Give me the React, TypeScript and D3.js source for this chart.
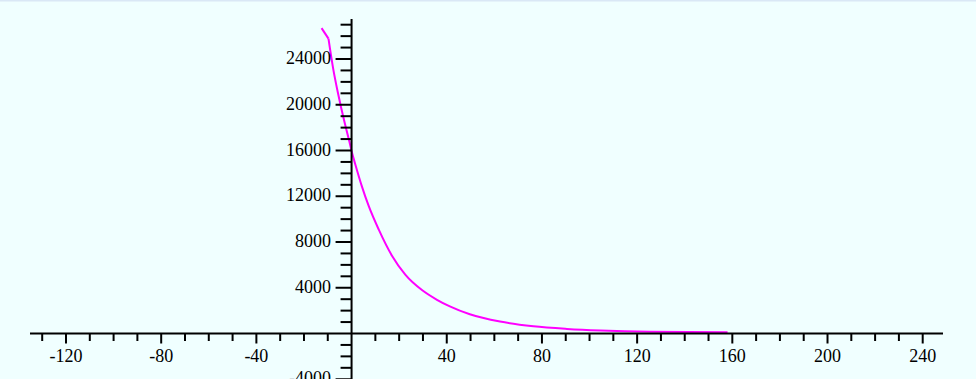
import React, { useEffect } from "react";
import * as d3 from "d3";

const xValues = [-12.6, -9.7, -7.6, -5.9, -4.5, -3.1, -1, 0, 1.55, 4.37, 7.19, 11.39, 16.98, 22.57, 29.58, 35.89, 41.3, 49.7, 62.4, 76.4, 90.5, 104.6, 125.6, 158];
const yValues = [26700, 25780, 23000, 21200, 19850, 18600, 16850, 15950, 14800, 12840, 11150, 9100, 6800, 5150, 3800, 2950, 2370, 1680, 1040, 630, 400, 255, 145, 105];

const xMajorTicks = [-120, -80, -40, 40, 80, 120, 160, 200, 240];
const yMajorTicks = [-4000, 4000, 8000, 12000, 16000, 20000, 24000];

const W = 976;
const H = 379;

export default function App() {
  useEffect(() => {
    document.body.style.margin = "0";
  }, []);

  const x = d3.scaleLinear().domain([-120, 240]).range([66, 922.7]);
  const y = d3.scaleLinear().domain([0, 24000]).range([333.5, 59]);

  const x0 = x(0);
  const y0 = y(0);

  const xMinor = d3.range(-130, 241, 10).filter((v) => v % 40 !== 0);
  const yMinor = d3.range(-4000, 27001, 1000).filter((v) => v % 4000 !== 0);

  const data = xValues.map((v, i) => [v, yValues[i]] as [number, number]);
  const lineLinear = d3
    .line<[number, number]>()
    .x((d) => x(d[0]))
    .y((d) => y(d[1]));
  const lineSmooth = d3
    .line<[number, number]>()
    .x((d) => x(d[0]))
    .y((d) => y(d[1]))
    .curve(d3.curveMonotoneX);

  const textStyle: React.CSSProperties = {
    fontFamily: "'Liberation Serif', 'Times New Roman', serif",
    fontSize: "18px",
  };

  return (
    <svg width={W} height={H} style={{ display: "block" }}>
      <rect x={0} y={0} width={W} height={H} fill="#F0FFFF" />
      <rect x={0} y={0} width={W} height={1.5} fill="#DAE8F6" />
      <path d={lineLinear(data.slice(0, 2)) || ""} fill="none" stroke="#FF00FF" strokeWidth={2} strokeLinejoin="round" />
      <path d={lineSmooth(data.slice(1)) || ""} fill="none" stroke="#FF00FF" strokeWidth={2} strokeLinejoin="round" />
      {/* x axis */}
      <line x1={30} x2={943} y1={y0} y2={y0} stroke="#000" strokeWidth={2} />
      {xMinor.map((v) => (
        <line key={"xm" + v} x1={x(v)} x2={x(v)} y1={y0} y2={y0 + 7.5} stroke="#000" strokeWidth={2} />
      ))}
      {xMajorTicks.map((v) => (
        <g key={"xM" + v}>
          <line x1={x(v)} x2={x(v)} y1={y0} y2={y0 + 10} stroke="#000" strokeWidth={2} />
          <text x={x(v)} y={362} textAnchor="middle" style={textStyle} fill="#000">
            {v}
          </text>
        </g>
      ))}
      {/* y axis */}
      <line x1={x0} x2={x0} y1={19} y2={H} stroke="#000" strokeWidth={2} />
      {yMinor.map((v) => (
        <line key={"ym" + v} x1={x0 - 11} x2={x0} y1={y(v)} y2={y(v)} stroke="#000" strokeWidth={2} />
      ))}
      {yMajorTicks.map((v) => (
        <g key={"yM" + v}>
          <line x1={x0 - 16} x2={x0} y1={y(v)} y2={y(v)} stroke="#000" strokeWidth={2} />
          <text x={331} y={y(v) + 5} textAnchor="end" style={textStyle} fill="#000">
            {v}
          </text>
        </g>
      ))}
    </svg>
  );
}
